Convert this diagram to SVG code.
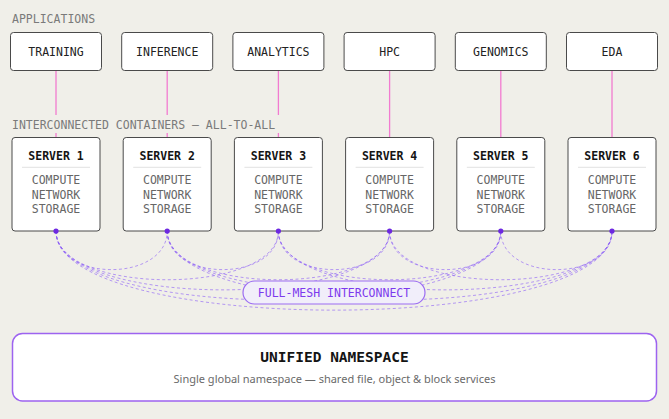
<svg xmlns="http://www.w3.org/2000/svg" width="669" height="419" viewBox="0 0 669 419">
<style>
.bg{fill:#f0efe9}
.mono{font-family:"DejaVu Sans Mono","Liberation Mono",monospace}
.lbl{font-size:11.5px;fill:#7a7a7a}
.app rect{fill:#fff;stroke:#4a4a4a;stroke-width:1}
.app text{font-size:11.5px;fill:#222;text-anchor:middle}
.srv rect{fill:#fff;stroke:#4a4a4a;stroke-width:1}
.srv .t{font-size:11.5px;font-weight:bold;fill:#141414;text-anchor:middle}
.srv .i{font-size:11.5px;fill:#666;text-anchor:middle}
.srv line{stroke:#e2e2e2;stroke-width:1}
.pink{stroke:#f27bd0;stroke-width:1.3;fill:none}
.mesh{stroke:#8b5cf6;stroke-width:1;stroke-opacity:0.6;fill:none;stroke-dasharray:3 2.5}
.dot{fill:#6d28e0}
</style>
<rect class="bg" x="0" y="0" width="669" height="419"/>

<g id="connectors">
  <g id="app-links">
    <line class="pink" x1="56" y1="70.5" x2="56" y2="137.5"/>
    <line class="pink" x1="167.2" y1="70.5" x2="167.2" y2="137.5"/>
    <line class="pink" x1="278.4" y1="70.5" x2="278.4" y2="137.5"/>
    <line class="pink" x1="389.6" y1="70.5" x2="389.6" y2="137.5"/>
    <line class="pink" x1="500.8" y1="70.5" x2="500.8" y2="137.5"/>
    <line class="pink" x1="612" y1="70.5" x2="612" y2="137.5"/>
  </g>
  <g id="mesh">
    <path class="mesh" d="M56 231 C56 282.5 167.2 282.5 167.2 231"/>
    <path class="mesh" d="M167.2 231 C167.2 282.5 278.4 282.5 278.4 231"/>
    <path class="mesh" d="M278.4 231 C278.4 282.5 389.6 282.5 389.6 231"/>
    <path class="mesh" d="M389.6 231 C389.6 282.5 500.8 282.5 500.8 231"/>
    <path class="mesh" d="M500.8 231 C500.8 282.5 612 282.5 612 231"/>
    <path class="mesh" d="M56 231 C56 296 278.4 296 278.4 231"/>
    <path class="mesh" d="M167.2 231 C167.2 296 389.6 296 389.6 231"/>
    <path class="mesh" d="M278.4 231 C278.4 296 500.8 296 500.8 231"/>
    <path class="mesh" d="M389.6 231 C389.6 296 612 296 612 231"/>
    <path class="mesh" d="M56 231 C56 309.5 389.6 309.5 389.6 231"/>
    <path class="mesh" d="M167.2 231 C167.2 309.5 500.8 309.5 500.8 231"/>
    <path class="mesh" d="M278.4 231 C278.4 309.5 612 309.5 612 231"/>
    <path class="mesh" d="M56 231 C56 323 500.8 323 500.8 231"/>
    <path class="mesh" d="M167.2 231 C167.2 323 612 323 612 231"/>
    <path class="mesh" d="M56 231 C56 336.5 612 336.5 612 231"/>
  </g>
</g>

<text class="mono lbl" x="12" y="22.5">APPLICATIONS</text>
<rect class="bg" x="8" y="115" width="277" height="18"/>
<text class="mono lbl" x="12" y="128.5">INTERCONNECTED CONTAINERS — ALL-TO-ALL</text>

<g id="app-training" class="app mono"><rect x="10.5" y="32.5" width="91" height="38" rx="3"/><text x="56" y="56">TRAINING</text></g>
<g id="app-inference" class="app mono"><rect x="121.7" y="32.5" width="91" height="38" rx="3"/><text x="167.2" y="56">INFERENCE</text></g>
<g id="app-analytics" class="app mono"><rect x="232.9" y="32.5" width="91" height="38" rx="3"/><text x="278.4" y="56">ANALYTICS</text></g>
<g id="app-hpc" class="app mono"><rect x="344.1" y="32.5" width="91" height="38" rx="3"/><text x="389.6" y="56">HPC</text></g>
<g id="app-genomics" class="app mono"><rect x="455.3" y="32.5" width="91" height="38" rx="3"/><text x="500.8" y="56">GENOMICS</text></g>
<g id="app-eda" class="app mono"><rect x="566.5" y="32.5" width="91" height="38" rx="3"/><text x="612" y="56">EDA</text></g>

<g id="server-1" class="srv mono"><rect x="12" y="137.5" width="88" height="93.5" rx="3"/><text class="t" x="56" y="159.5">SERVER 1</text><line x1="22" y1="167.3" x2="90" y2="167.3"/><text class="i" x="56" y="184">COMPUTE</text><text class="i" x="56" y="198.5">NETWORK</text><text class="i" x="56" y="213">STORAGE</text></g>
<g id="server-2" class="srv mono"><rect x="123.2" y="137.5" width="88" height="93.5" rx="3"/><text class="t" x="167.2" y="159.5">SERVER 2</text><line x1="133.2" y1="167.3" x2="201.2" y2="167.3"/><text class="i" x="167.2" y="184">COMPUTE</text><text class="i" x="167.2" y="198.5">NETWORK</text><text class="i" x="167.2" y="213">STORAGE</text></g>
<g id="server-3" class="srv mono"><rect x="234.4" y="137.5" width="88" height="93.5" rx="3"/><text class="t" x="278.4" y="159.5">SERVER 3</text><line x1="244.4" y1="167.3" x2="312.4" y2="167.3"/><text class="i" x="278.4" y="184">COMPUTE</text><text class="i" x="278.4" y="198.5">NETWORK</text><text class="i" x="278.4" y="213">STORAGE</text></g>
<g id="server-4" class="srv mono"><rect x="345.6" y="137.5" width="88" height="93.5" rx="3"/><text class="t" x="389.6" y="159.5">SERVER 4</text><line x1="355.6" y1="167.3" x2="423.6" y2="167.3"/><text class="i" x="389.6" y="184">COMPUTE</text><text class="i" x="389.6" y="198.5">NETWORK</text><text class="i" x="389.6" y="213">STORAGE</text></g>
<g id="server-5" class="srv mono"><rect x="456.8" y="137.5" width="88" height="93.5" rx="3"/><text class="t" x="500.8" y="159.5">SERVER 5</text><line x1="466.8" y1="167.3" x2="534.8" y2="167.3"/><text class="i" x="500.8" y="184">COMPUTE</text><text class="i" x="500.8" y="198.5">NETWORK</text><text class="i" x="500.8" y="213">STORAGE</text></g>
<g id="server-6" class="srv mono"><rect x="568" y="137.5" width="88" height="93.5" rx="3"/><text class="t" x="612" y="159.5">SERVER 6</text><line x1="578" y1="167.3" x2="646" y2="167.3"/><text class="i" x="612" y="184">COMPUTE</text><text class="i" x="612" y="198.5">NETWORK</text><text class="i" x="612" y="213">STORAGE</text></g>

<g id="dots">
  <circle class="dot" cx="56" cy="231" r="2.6"/>
  <circle class="dot" cx="167.2" cy="231" r="2.6"/>
  <circle class="dot" cx="278.4" cy="231" r="2.6"/>
  <circle class="dot" cx="389.6" cy="231" r="2.6"/>
  <circle class="dot" cx="500.8" cy="231" r="2.6"/>
  <circle class="dot" cx="612" cy="231" r="2.6"/>
</g>

<g id="mesh-label">
  <rect x="243" y="281" width="182" height="23" rx="11.5" fill="#f1eefa" stroke="#9b6cf2" stroke-width="1.2"/>
  <text class="mono" x="334" y="296.8" font-size="11.5" fill="#7c3aed" text-anchor="middle">FULL-MESH INTERCONNECT</text>
</g>

<g id="namespace">
  <rect x="12.5" y="333.5" width="644" height="67.5" rx="10" fill="#fff" stroke="#9d63f0" stroke-width="1.5"/>
  <text class="mono" x="334.5" y="362" font-size="14.5" font-weight="bold" fill="#141414" text-anchor="middle">UNIFIED NAMESPACE</text>
  <text x="334.5" y="383" font-family="'Noto Sans','Liberation Sans',sans-serif" font-size="11" fill="#6a6a6a" text-anchor="middle">Single global namespace — shared file, object &amp; block services</text>
</g>
</svg>
